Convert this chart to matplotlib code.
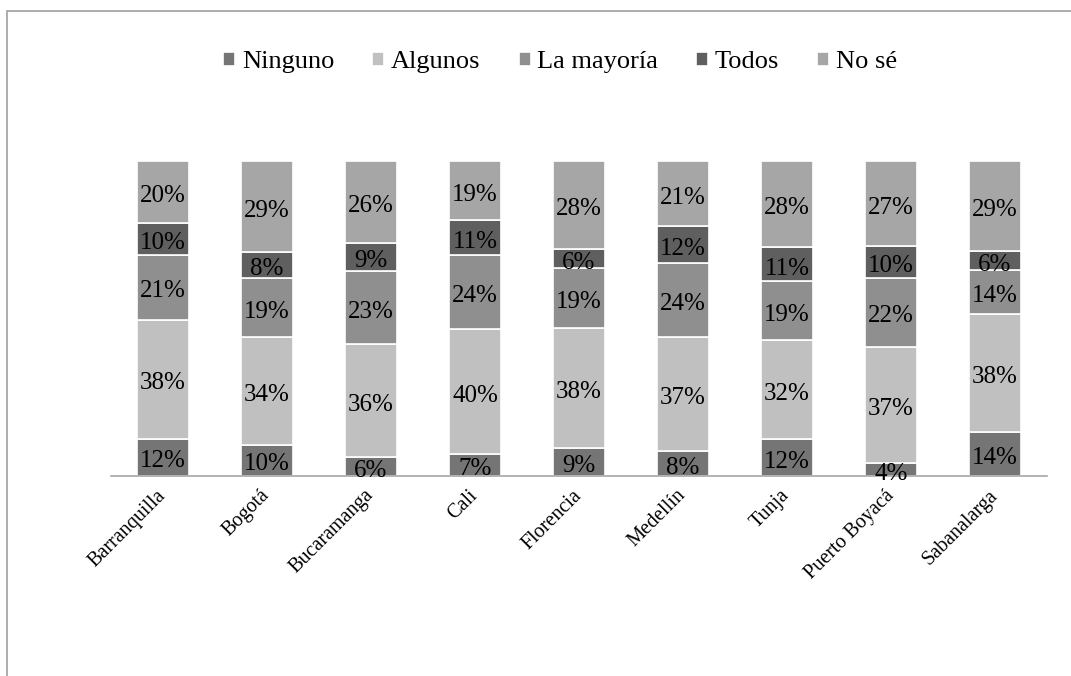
import matplotlib.pyplot as plt
import numpy as np
from matplotlib.patches import Rectangle

plt.rcParams['font.family'] = ['Liberation Serif', 'DejaVu Serif']

cities = ['Barranquilla', 'Bogotá', 'Bucaramanga', 'Cali', 'Florencia',
          'Medellín', 'Tunja', 'Puerto Boyacá', 'Sabanalarga']
series = ['Ninguno', 'Algunos', 'La mayoría', 'Todos', 'No sé']
ninguno = [12, 10, 6, 7, 9, 8, 12, 4, 14]
algunos = [38, 34, 36, 40, 38, 37, 32, 37, 38]
mayoria = [21, 19, 23, 24, 19, 24, 19, 22, 14]
todos = [10, 8, 9, 11, 6, 12, 11, 10, 6]
no_se = [20, 29, 26, 19, 28, 21, 28, 27, 29]
colors = ['#757575', '#c0c0c0', '#8f8f8f', '#5f5f5f', '#a6a6a6']

values = np.array([ninguno, algunos, mayoria, todos, no_se], dtype=float)
shares = values / values.sum(axis=0)

fig = plt.figure(figsize=(10.71, 6.76), dpi=100)
fig.patches.append(Rectangle((7 / 1071, -0.1), 1.2, 1 - 11 / 676 + 0.1,
                             transform=fig.transFigure, fill=False,
                             edgecolor='#a0a0a0', linewidth=1.2))
ax = fig.add_axes([111 / 1071, 1 - 476 / 676, (1047 - 111) / 1071, (476 - 161) / 676])

x = np.arange(len(cities))
bottom = np.zeros(len(cities))
for name, share, raw, c in zip(series, shares, values, colors):
    ax.bar(x, share, 0.5, bottom=bottom, color=c, edgecolor='white',
           linewidth=1.2, label=name)
    for xi, b, s, r in zip(x, bottom, share, raw):
        ax.annotate(f'{int(r)}%', (xi, b + s / 2), xytext=(0, -3),
                    textcoords='offset points', ha='center', va='center',
                    fontsize=18, color='black')
    bottom += share

ax.set_xlim(-0.5, len(cities) - 0.5)
ax.set_ylim(0, 1)
ax.set_yticks([])
for side in ['left', 'right', 'top']:
    ax.spines[side].set_visible(False)
ax.spines['bottom'].set_color('#a6a6a6')
ax.spines['bottom'].set_linewidth(1.2)
ax.set_xticks(x)
ax.set_xticklabels(cities, rotation=45, ha='right', va='center',
                   rotation_mode='anchor', fontsize=14.5)
ax.tick_params(axis='x', length=0, pad=12)

fig.legend(loc='center', bbox_to_anchor=(0.523, 0.908), ncol=5, frameon=False,
           fontsize=19, handlelength=0.45, handleheight=0.45,
           handletextpad=0.25, columnspacing=1.45)

fig.savefig('out.png', dpi=100)
